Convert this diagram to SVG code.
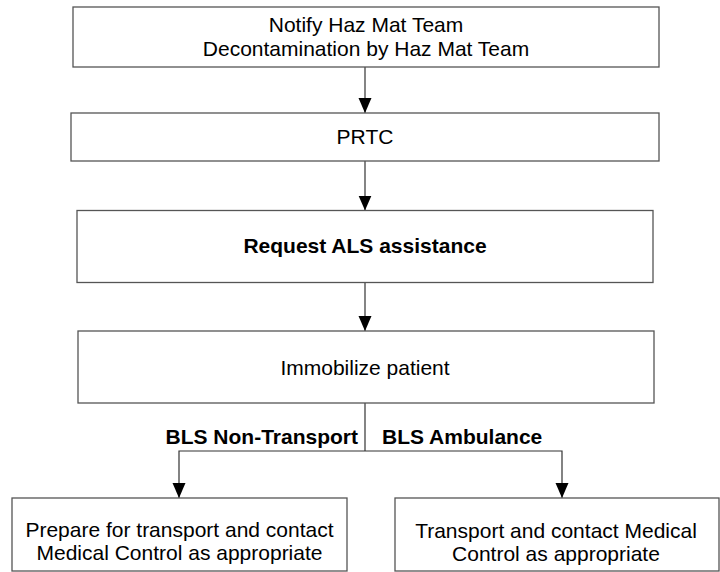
<svg xmlns="http://www.w3.org/2000/svg" width="720" height="572" viewBox="0 0 720 572">
<style>
.box{fill:#fff;stroke:#555;stroke-width:1.3}
.t{font-family:"Liberation Sans",Arial,sans-serif;font-size:21px;fill:#000;text-anchor:middle}
.b{font-weight:bold}
.c{fill:none;stroke:#333;stroke-width:1.2}
</style>
<defs>
<marker id="ah" markerUnits="userSpaceOnUse" markerWidth="16" markerHeight="14" refX="15" refY="7" orient="auto" viewBox="0 0 16 14">
<path d="M0,0.5 L15,7 L0,13.5 Z" fill="#000"/>
</marker>
</defs>
<rect width="720" height="572" fill="#fff"/>
<g id="connectors">
<line class="c" x1="365" y1="67" x2="365" y2="113" marker-end="url(#ah)"/>
<line class="c" x1="365" y1="161" x2="365" y2="210.5" marker-end="url(#ah)"/>
<line class="c" x1="365" y1="283" x2="365" y2="331" marker-end="url(#ah)"/>
<polyline class="c" points="365,403 365,451"/>
<polyline class="c" points="365,451 179,451 179,498" marker-end="url(#ah)"/>
<polyline class="c" points="365,451 562,451 562,498" marker-end="url(#ah)"/>
</g>
<g id="n1">
<rect class="box" x="73" y="7" width="586" height="60"/>
<text class="t" x="366" y="32">Notify Haz Mat Team</text>
<text class="t" x="366" y="56">Decontamination by Haz Mat Team</text>
</g>
<g id="n2">
<rect class="box" x="71" y="113" width="588" height="48"/>
<text class="t" x="365" y="144">PRTC</text>
</g>
<g id="n3">
<rect class="box" x="77" y="210.5" width="576" height="72"/>
<text class="t b" x="365" y="253">Request ALS assistance</text>
</g>
<g id="n4">
<rect class="box" x="78" y="331" width="576" height="72"/>
<text class="t" x="365" y="375">Immobilize patient</text>
</g>
<g id="labels">
<text class="t b" x="358" y="444" style="text-anchor:end">BLS Non-Transport</text>
<text class="t b" x="382" y="444" style="text-anchor:start">BLS Ambulance</text>
</g>
<g id="n5">
<rect class="box" x="12" y="498" width="335" height="73"/>
<text class="t" x="179.5" y="537">Prepare for transport and contact</text>
<text class="t" x="179.5" y="560">Medical Control as appropriate</text>
</g>
<g id="n6">
<rect class="box" x="395" y="498" width="324" height="73"/>
<text class="t" x="556" y="538">Transport and contact Medical</text>
<text class="t" x="556" y="561">Control as appropriate</text>
</g>
</svg>
